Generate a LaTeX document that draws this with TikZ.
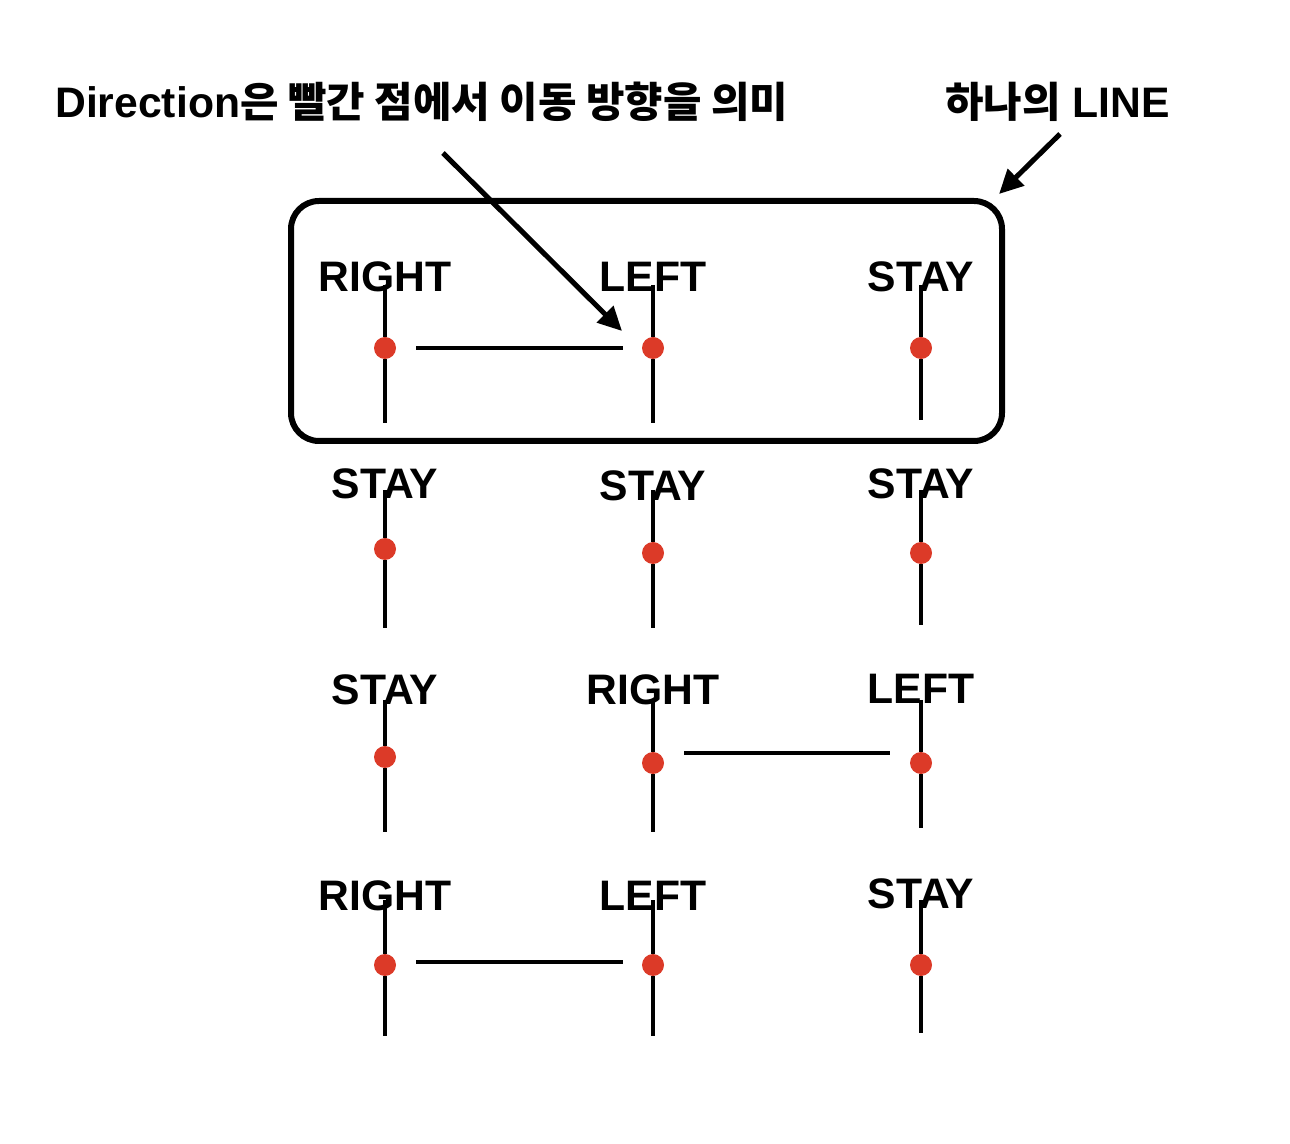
\documentclass[tikz,border=0pt]{standalone}
\usepackage{fontspec}
\setmainfont{Liberation Sans}
\newfontfamily\kr{Noto Sans CJK KR}[UprightFont=* Bold, Scale=0.98]
\usetikzlibrary{arrows.meta}
\definecolor{cR}{RGB}{220,58,40}
\tikzset{mydot/.style={
  shape=circle,
  draw=none,
  fill=cR,
  minimum size=16.5pt,
  inner sep=0pt,
  }
}
\tikzset{mylabel/.style={
  anchor=base,
  inner sep=0pt,
  font=\bfseries\fontsize{32}{38}\selectfont,
  }
}
\tikzset{mytitle/.style={
  anchor=base west,
  inner sep=0pt,
  font=\bfseries\fontsize{32}{38}\selectfont,
  }
}
\tikzset{mywire/.style={line width=3pt}}
\tikzset{mybox/.style={line width=4.5pt, rounded corners=21pt}}
\tikzset{myarrow/.style={line width=3.8pt, -{Triangle[length=18pt,width=17pt]}}}
\begin{document}
\begin{tikzpicture}[x=0.75pt, y=-0.75pt]
  \useasboundingbox (0,0) rectangle (1290,1144);

  % titles
  \node[mytitle] (t1) at (55,118) {Direction{\kr 은 빨간 점에서 이동 방향을 의미}};
  \node[mytitle] (t2) at (945,118) {{\kr 하나의} LINE};

  % labels
  \node[mylabel] (l11) at (385,292) {RIGHT};
  \node[mylabel] (l12) at (653,292) {LEFT};
  \node[mylabel] (l13) at (921,292) {STAY};
  \node[mylabel] (l21) at (385,499) {STAY};
  \node[mylabel] (l22) at (653,501) {STAY};
  \node[mylabel] (l23) at (921,499) {STAY};
  \node[mylabel] (l31) at (385,705) {STAY};
  \node[mylabel] (l32) at (653,705) {RIGHT};
  \node[mylabel] (l33) at (921,704) {LEFT};
  \node[mylabel] (l41) at (385,910) {RIGHT};
  \node[mylabel] (l42) at (653,910) {LEFT};
  \node[mylabel] (l43) at (921,908) {STAY};

  % red points
  \node[mydot] (d11) at (385,348) {};
  \node[mydot] (d12) at (653,348) {};
  \node[mydot] (d13) at (921,348) {};
  \node[mydot] (d21) at (385,549) {};
  \node[mydot] (d22) at (653,553) {};
  \node[mydot] (d23) at (921,553) {};
  \node[mydot] (d31) at (385,757) {};
  \node[mydot] (d32) at (653,763) {};
  \node[mydot] (d33) at (921,763) {};
  \node[mydot] (d41) at (385,965) {};
  \node[mydot] (d42) at (653,965) {};
  \node[mydot] (d43) at (921,965) {};

  % line ends
  \coordinate (a11) at (385,285); \coordinate (b11) at (385,423);
  \coordinate (a12) at (653,285); \coordinate (b12) at (653,423);
  \coordinate (a13) at (921,285); \coordinate (b13) at (921,420);
  \coordinate (a21) at (385,490); \coordinate (b21) at (385,628);
  \coordinate (a22) at (653,490); \coordinate (b22) at (653,628);
  \coordinate (a23) at (921,490); \coordinate (b23) at (921,625);
  \coordinate (a31) at (385,700); \coordinate (b31) at (385,832);
  \coordinate (a32) at (653,700); \coordinate (b32) at (653,832);
  \coordinate (a33) at (921,700); \coordinate (b33) at (921,828);
  \coordinate (a41) at (385,900); \coordinate (b41) at (385,1036);
  \coordinate (a42) at (653,900); \coordinate (b42) at (653,1036);
  \coordinate (a43) at (921,900); \coordinate (b43) at (921,1033);

  \draw[mywire] (a11) -- (d11) -- (b11);
  \draw[mywire] (a12) -- (d12) -- (b12);
  \draw[mywire] (a13) -- (d13) -- (b13);
  \draw[mywire] (a21) -- (d21) -- (b21);
  \draw[mywire] (a22) -- (d22) -- (b22);
  \draw[mywire] (a23) -- (d23) -- (b23);
  \draw[mywire] (a31) -- (d31) -- (b31);
  \draw[mywire] (a32) -- (d32) -- (b32);
  \draw[mywire] (a33) -- (d33) -- (b33);
  \draw[mywire] (a41) -- (d41) -- (b41);
  \draw[mywire] (a42) -- (d42) -- (b42);
  \draw[mywire] (a43) -- (d43) -- (b43);

  % moves
  \coordinate (h1) at (416,348); \coordinate (k1) at (623,348);
  \coordinate (h3) at (684,753); \coordinate (k3) at (890,753);
  \coordinate (h4) at (416,962); \coordinate (k4) at (623,962);
  \draw[mywire] (h1) -- (k1);
  \draw[mywire] (h3) -- (k3);
  \draw[mywire] (h4) -- (k4);

  % one LINE
  \draw[mybox] (291,201) rectangle (1002,441);

  % arrows
  \coordinate (p1) at (443,153); \coordinate (q1) at (622,331);
  \coordinate (p2) at (1060,134); \coordinate (q2) at (999,194);
  \draw[myarrow] (p1) -- (q1);
  \draw[myarrow] (p2) -- (q2);
\end{tikzpicture}
\end{document}
